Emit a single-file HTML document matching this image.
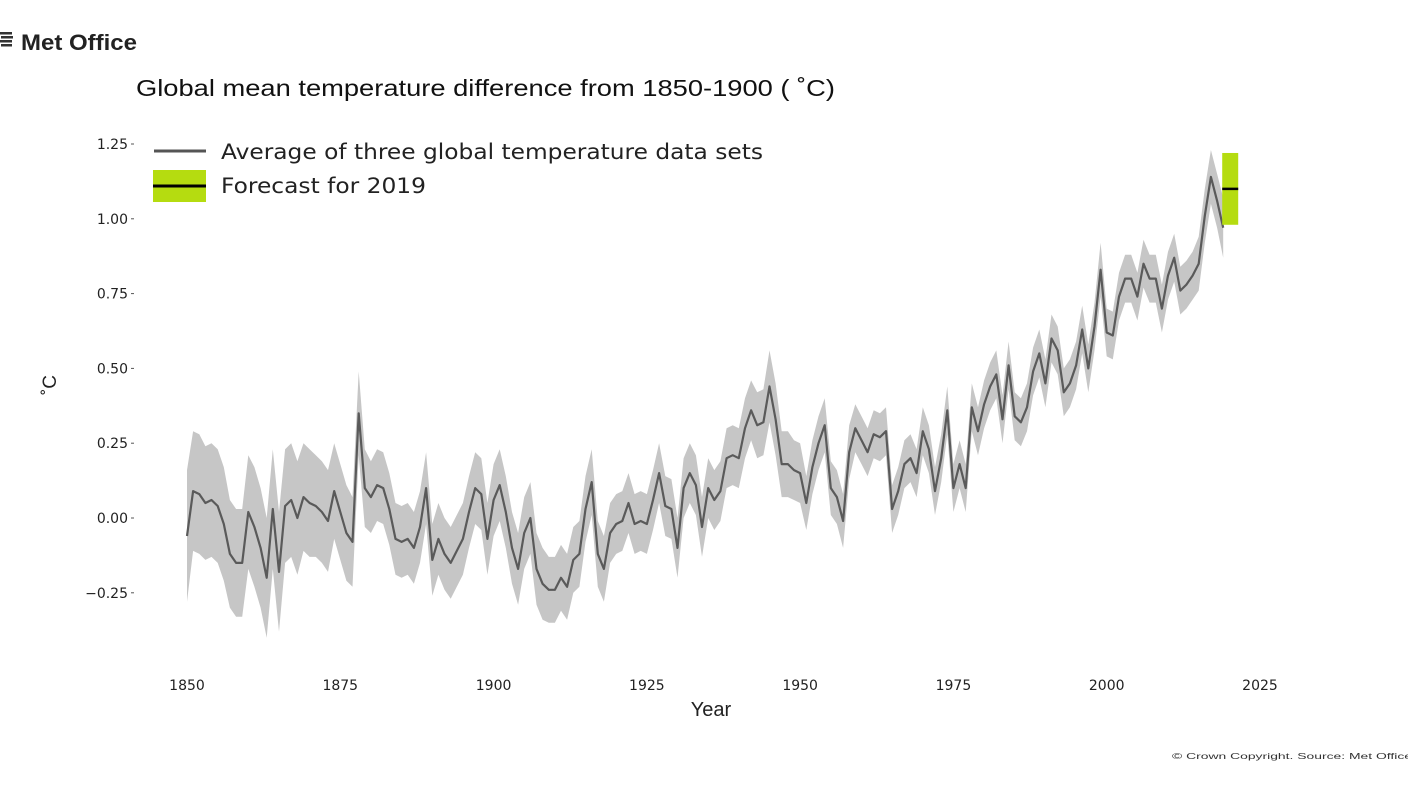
<!DOCTYPE html>
<html><head><meta charset="utf-8">
<style>
html,body{margin:0;padding:0;background:#fff;width:1408px;height:791px;overflow:hidden}
svg{display:block;font-family:"Liberation Sans","DejaVu Sans",sans-serif}
</style></head>
<body>
<svg id="chart" width="1408" height="791" viewBox="0 0 1408 791">
  <g>
    <g fill="#333">
      <rect x="0" y="32" width="12" height="2.5"/><rect x="1" y="36" width="12" height="2.5"/><rect x="0" y="40" width="12" height="2.5"/><rect x="1" y="44" width="11" height="2.5"/>
    </g>
    <text x="21" y="50" font-size="22" font-weight="bold" fill="#222" textLength="116" lengthAdjust="spacingAndGlyphs">Met Office</text>
  </g>
  <text x="136" y="96" font-size="23" fill="#111" textLength="699" lengthAdjust="spacingAndGlyphs">Global mean temperature difference from 1850-1900 ( ˚C)</text>
  <g id="axes"></g>
  <g id="marks"></g>
  <g>
    <g>
      <line x1="154" y1="151" x2="206" y2="151" stroke="#555" stroke-width="3"/>
      <text x="221" y="159" font-size="21" fill="#222" font-family="DejaVu Sans, sans-serif" textLength="542" lengthAdjust="spacingAndGlyphs">Average of three global temperature data sets</text>
    </g>
    <g>
      <rect x="153" y="170" width="53" height="32" fill="#b5dc10"/>
      <line x1="153" y1="186" x2="206" y2="186" stroke="#000" stroke-width="3"/>
      <text x="221" y="193" font-size="21" fill="#222" font-family="DejaVu Sans, sans-serif" textLength="205" lengthAdjust="spacingAndGlyphs">Forecast for 2019</text>
    </g>
  </g>
  <text x="711" y="716" font-size="20" text-anchor="middle" fill="#222">Year</text>
  <text transform="translate(56,385) rotate(-90)" font-size="19" text-anchor="middle" fill="#222">˚C</text>
  <text x="1172" y="759" font-size="8.5" fill="#333" textLength="240" lengthAdjust="spacingAndGlyphs">© Crown Copyright. Source: Met Office</text>
</svg>
<script>
const startYear = 1850;
const meanValues = [-0.06,0.09,0.08,0.05,0.06,0.04,-0.02,-0.12,-0.15,-0.15,
0.02,-0.03,-0.1,-0.2,0.03,-0.18,0.04,0.06,0.0,0.07,
0.05,0.04,0.02,-0.01,0.09,0.02,-0.05,-0.08,0.35,
0.1,0.07,0.11,0.1,0.03,-0.07,-0.08,-0.07,-0.1,-0.03,
0.1,-0.14,-0.07,-0.12,-0.15,-0.11,-0.07,0.02,0.1,0.08,
-0.07,0.06,0.11,0.02,-0.1,-0.17,-0.05,0.0,-0.17,-0.22,
-0.24,-0.24,-0.2,-0.23,-0.14,-0.12,0.03,0.12,-0.12,-0.17,
-0.05,-0.02,-0.01,0.05,-0.02,-0.01,-0.02,0.06,0.15,0.04,
0.03,-0.1,0.1,0.15,0.11,-0.03,0.1,0.06,0.09,0.2,
0.21,0.2,0.3,0.36,0.31,0.32,0.44,0.33,0.18,0.18,
0.16,0.15,0.05,0.17,0.25,0.31,0.1,0.07,-0.01,0.22,
0.3,0.26,0.22,0.28,0.27,0.29,0.03,0.09,0.18,0.2,
0.15,0.29,0.23,0.09,0.2,0.36,0.1,0.18,0.1,0.37,
0.29,0.38,0.44,0.48,0.33,0.51,0.34,0.32,0.37,0.49,
0.55,0.45,0.6,0.56,0.42,0.45,0.51,0.63,0.5,0.64,
0.83,0.62,0.61,0.74,0.8,0.8,0.74,0.85,0.8,0.8,
0.7,0.81,0.87,0.76,0.78,0.81,0.85,1.01,1.14,1.06,0.97];
const uncertainty = [0.22,0.2,0.2,0.19,0.19,0.19,0.19,0.18,0.18,0.18,
0.19,0.2,0.2,0.2,0.2,0.2,0.19,0.19,0.19,0.18,
0.18,0.17,0.17,0.17,0.16,0.16,0.16,0.15,0.14,
0.13,0.12,0.12,0.12,0.12,0.12,0.12,0.12,0.12,0.12,
0.12,0.12,0.12,0.12,0.12,0.12,0.12,0.12,0.12,0.12,
0.12,0.12,0.12,0.12,0.12,0.12,0.12,0.12,0.12,0.12,
0.11,0.11,0.11,0.11,0.11,0.11,0.11,0.11,0.11,0.11,
0.1,0.1,0.1,0.1,0.1,0.1,0.1,0.1,0.1,0.1,
0.1,0.1,0.1,0.1,0.1,0.1,0.1,0.1,0.1,0.1,
0.1,0.1,0.1,0.1,0.11,0.11,0.12,0.12,0.11,0.11,
0.1,0.1,0.09,0.09,0.09,0.09,0.09,0.09,0.09,0.09,
0.08,0.08,0.08,0.08,0.08,0.08,0.08,0.08,0.08,0.08,
0.08,0.08,0.08,0.08,0.08,0.08,0.08,0.08,0.08,0.08,
0.08,0.08,0.08,0.08,0.08,0.08,0.08,0.08,0.08,0.08,
0.08,0.08,0.08,0.08,0.08,0.08,0.08,0.08,0.08,0.08,
0.09,0.08,0.08,0.08,0.08,0.08,0.08,0.08,0.08,0.08,
0.08,0.08,0.08,0.08,0.08,0.08,0.09,0.09,0.09,0.09,0.1];
const forecastYear = [2019];
const forecastCentral = [1.1];
const forecastLow = [0.98];
const forecastHigh = [1.22];
const yTicks = [-0.25,0,0.25,0.5,0.75,1.0,1.25];
const yTickLabels = ["\u22120.25","0.00","0.25","0.50","0.75","1.00","1.25"];
const xTicks = [1850,1875,1900,1925,1950,1975,2000,2025];

const NS = "http://www.w3.org/2000/svg";
function xScale(yr){ return 187 + (yr - 1850) * (1073/175); }
function yScale(v){ return 518 - v * 299.2; }
function mk(tag, attrs, parent){ const e = document.createElementNS(NS, tag); for (const k in attrs) e.setAttribute(k, attrs[k]); parent.appendChild(e); return e; }

const axes = document.getElementById('axes');
const marks = document.getElementById('marks');

yTicks.forEach((v,i)=>{
  const t = mk('text', {x:128, y:yScale(v)+5, 'font-size':14, 'text-anchor':'end', fill:'#222', 'font-family':'DejaVu Sans, sans-serif'}, axes);
  t.textContent = yTickLabels[i];
  
  
  const l = mk('line', {x1:131, x2:134, y1:yScale(v), y2:yScale(v), stroke:'#555', 'stroke-width':1}, axes);
  
  
});
xTicks.forEach(yr=>{
  const t = mk('text', {x:xScale(yr), y:690, 'font-size':14, 'text-anchor':'middle', fill:'#222', 'font-family':'DejaVu Sans, sans-serif'}, axes);
  t.textContent = String(yr);
  
  
});

let upper = [], lower = [], line = [];
meanValues.forEach((v,i)=>{
  const x = xScale(startYear + i);
  upper.push(x.toFixed(1)+','+yScale(v + uncertainty[i]).toFixed(1));
  lower.push(x.toFixed(1)+','+yScale(v - uncertainty[i]).toFixed(1));
  line.push(x.toFixed(1)+','+yScale(v).toFixed(1));
});
const band = mk('polygon', {points: upper.concat(lower.reverse()).join(' '), fill:'#c6c6c6'}, marks);


const pl = mk('polyline', {points: line.join(' '), fill:'none', stroke:'#5a5a5a', 'stroke-width':2.2, 'stroke-linejoin':'round'}, marks);



forecastYear.forEach((yr,i)=>{
  const x = xScale(yr) + 7;
  const r = mk('rect', {x:x-8, y:yScale(forecastHigh[i]), width:16, height:yScale(forecastLow[i])-yScale(forecastHigh[i]), fill:'#b5dc10'}, marks);
  
  
  const c = mk('line', {x1:x-8, x2:x+8, y1:yScale(forecastCentral[i]), y2:yScale(forecastCentral[i]), stroke:'#000', 'stroke-width':2.5}, marks);
  
  
});
</script>
</body></html>
